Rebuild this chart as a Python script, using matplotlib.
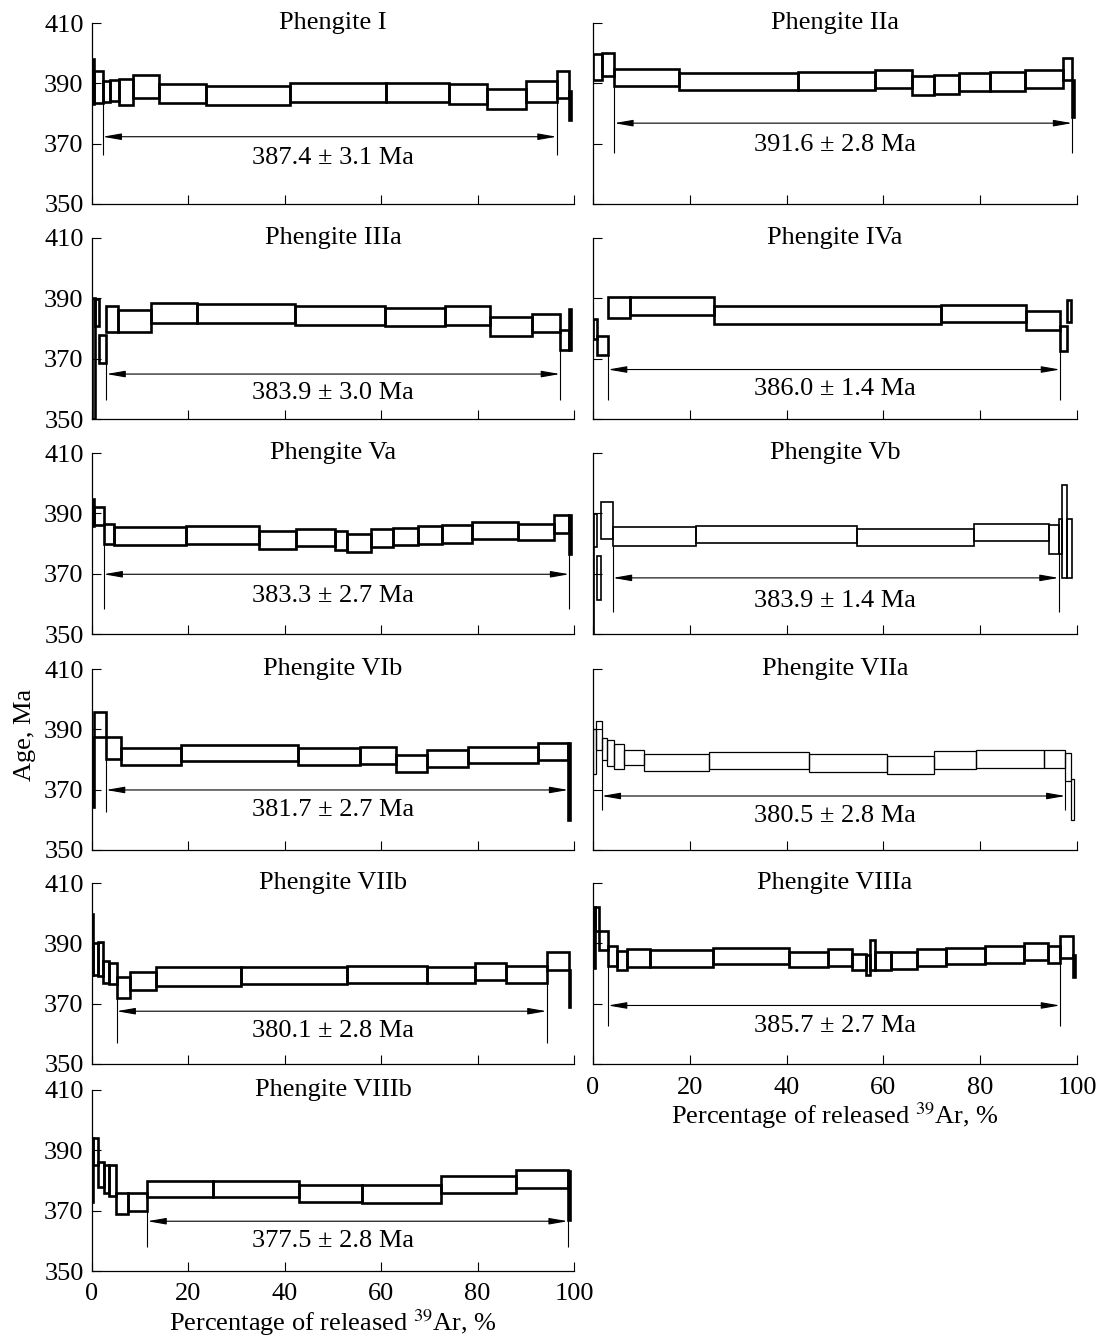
import numpy as np
import matplotlib.pyplot as plt

plt.rcParams["font.family"] = ["Liberation Serif", "DejaVu Serif"]
plt.rcParams["mathtext.fontset"] = "stix"

# --- step spectra: cumulative 39Ar release (%) edges, age low / high (Ma) ---
I_edges = [0, 0.5, 2.2, 3.7, 5.7, 8.5, 14.0, 23.6, 41.0, 60.9, 74.1, 81.9, 90.0, 96.4, 99.0, 99.4]
I_lo = [383.2, 383.4, 383.7, 384.2, 382.8, 385.0, 383.5, 382.8, 383.9, 383.9, 383.0, 381.5, 383.9, 385.0, 377.7]
I_hi = [398.0, 394.0, 390.8, 391.0, 391.6, 392.9, 389.9, 389.1, 390.2, 390.2, 389.9, 388.0, 390.8, 394.2, 387.5]

IIa_edges = [0, 1.8, 4.4, 17.8, 42.3, 58.3, 65.9, 70.5, 75.7, 82.1, 89.2, 97.2, 99.0, 99.3]
IIa_lo = [391.2, 392.5, 389.0, 387.7, 387.8, 388.5, 386.1, 386.4, 387.6, 387.6, 388.5, 391.2, 378.9]
IIa_hi = [399.6, 399.9, 394.9, 393.5, 393.8, 394.3, 392.5, 392.8, 393.5, 393.8, 394.5, 398.5, 391.2]

IIIa_edges = [0, 0.7, 1.5, 3.0, 5.35, 12.2, 21.8, 42.2, 60.8, 73.2, 82.5, 91.2, 97.1, 99.0, 99.4]
IIIa_lo = [350.0, 380.7, 368.5, 379.0, 379.0, 381.8, 381.8, 381.2, 380.7, 381.2, 377.6, 378.7, 373.0, 373.0]
IIIa_hi = [390.1, 389.7, 377.9, 387.5, 386.2, 388.4, 388.1, 387.5, 386.7, 387.5, 383.8, 384.9, 379.5, 386.5]

IVa_edges = [0, 0.9, 3.1, 7.7, 25.0, 72.0, 89.5, 96.5, 97.9, 98.7]
IVa_lo = [376.5, 371.3, 383.6, 384.4, 381.4, 382.0, 379.6, 372.6, 382.0]
IVa_hi = [383.1, 377.6, 390.5, 390.4, 387.5, 387.9, 385.8, 380.9, 389.5]

Va_edges = [0, 0.5, 2.4, 4.6, 19.5, 34.7, 42.3, 50.5, 52.9, 57.9, 62.4, 67.6, 72.7, 78.8, 88.3, 95.9, 99.0, 99.3]
Va_lo = [385.8, 386.0, 380.0, 379.6, 380.0, 378.3, 379.2, 377.8, 377.3, 378.8, 379.4, 379.7, 380.3, 381.4, 381.0, 383.6, 376.4]
Va_hi = [394.6, 392.2, 386.5, 385.4, 385.8, 384.1, 384.9, 384.1, 383.2, 384.9, 385.2, 385.8, 386.0, 387.1, 386.5, 389.6, 389.6]

Vb_edges = [0, 0.3, 0.8, 1.6, 4.1, 21.3, 54.5, 78.8, 94.2, 96.2, 96.8, 97.9, 99.0]
Vb_lo = [350.0, 378.7, 361.4, 381.5, 379.3, 380.1, 379.1, 380.7, 376.5, 376.5, 368.5, 368.5]
Vb_hi = [378.7, 389.8, 376.0, 393.6, 385.4, 385.9, 384.8, 386.5, 386.2, 388.1, 399.4, 388.1]

VIb_edges = [0, 0.4, 2.9, 6.1, 18.5, 42.7, 55.5, 63.1, 69.5, 78.0, 92.6, 98.8, 99.1]
VIb_lo = [364.4, 387.3, 380.1, 378.2, 379.6, 378.2, 378.4, 375.9, 377.4, 378.7, 379.8, 360.0]
VIb_hi = [387.3, 395.9, 387.3, 383.7, 384.8, 383.7, 384.0, 381.5, 383.1, 384.0, 385.6, 385.6]

VIIa_edges = [0, 0.7, 1.8, 2.8, 4.4, 6.4, 10.5, 23.9, 44.7, 60.8, 70.5, 79.2, 93.2, 97.6, 98.7, 99.3]
VIIa_lo = [375.3, 383.0, 379.7, 377.7, 376.7, 378.1, 376.2, 376.7, 375.9, 375.3, 377.0, 377.2, 377.2, 372.9, 359.9]
VIIa_hi = [390.0, 392.6, 387.2, 386.3, 385.2, 383.3, 381.9, 382.5, 381.7, 381.0, 382.8, 383.2, 383.3, 382.1, 373.7]

VIIb_edges = [0, 0.3, 1.2, 2.2, 3.6, 5.1, 7.8, 13.3, 31.0, 53.0, 69.5, 79.5, 85.8, 94.3, 98.9, 99.2]
VIIb_lo = [379.6, 379.6, 379.3, 377.0, 376.5, 372.0, 374.5, 376.0, 376.5, 377.0, 377.0, 378.0, 377.0, 381.0, 369.0]
VIIb_hi = [399.6, 390.0, 390.5, 384.0, 383.5, 379.0, 380.5, 382.0, 382.0, 382.5, 382.0, 383.5, 382.5, 387.0, 381.0]

VIIIa_edges = [0, 0.4, 1.2, 3.1, 4.9, 7.1, 11.7, 24.8, 40.5, 48.5, 53.5, 56.5, 57.3, 58.3, 61.5, 67.0,
               73.0, 81.0, 89.0, 94.0, 96.5, 99.2, 99.6]
VIIIa_lo = [381.8, 394.2, 387.9, 382.5, 381.0, 382.3, 382.1, 383.0, 382.0, 382.5, 381.0, 379.5, 381.0,
            381.0, 381.5, 382.5, 383.0, 383.5, 384.5, 383.5, 385.0, 379.0]
VIIIa_hi = [402.2, 402.2, 394.2, 389.2, 387.3, 388.1, 387.9, 388.3, 387.0, 388.0, 386.5, 386.0, 391.0,
            387.0, 387.0, 388.0, 388.5, 389.0, 390.0, 389.0, 392.5, 386.0]

VIIIb_edges = [0, 0.3, 1.3, 2.5, 3.5, 5.0, 7.5, 11.5, 25.0, 43.0, 56.0, 72.5, 88.0, 98.7, 99.2]
VIIIb_lo = [373, 385, 378, 376, 375, 369, 370, 374.5, 374.5, 373, 372.5, 376, 377.5, 367]
VIIIb_hi = [394, 394, 386, 385, 385, 376, 376, 380, 380, 378.5, 378.5, 381.5, 383.5, 383]

# plateau limits (%), plateau ages
plateau_from = [2.2, 4.4, 3.0, 3.1, 2.4, 4.1, 2.9, 1.8, 5.1, 3.1, 11.5]
plateau_to = [96.4, 99.0, 97.1, 96.5, 99.0, 96.2, 98.8, 97.6, 94.3, 96.5, 98.7]
plateau_text = ["387.4 ± 3.1 Ma", "391.6 ± 2.8 Ma", "383.9 ± 3.0 Ma", "386.0 ± 1.4 Ma",
                "383.3 ± 2.7 Ma", "383.9 ± 1.4 Ma", "381.7 ± 2.7 Ma", "380.5 ± 2.8 Ma",
                "380.1 ± 2.8 Ma", "385.7 ± 2.7 Ma", "377.5 ± 2.8 Ma"]
arrow_y = [372.3, 376.8, 364.9, 366.4, 369.8, 368.6, 369.9, 367.9, 367.5, 369.4, 366.5]
line_bottom = [366.3, 366.8, 356.3, 356.2, 358.2, 357.2, 362.7, 363.2, 357.0, 362.7, 358.0]
text_y = [365.4, 369.6, 358.7, 359.8, 362.6, 361.0, 363.3, 361.3, 361.0, 362.5, 360.0]

names = ["Phengite I", "Phengite IIa", "Phengite IIIa", "Phengite IVa", "Phengite Va",
         "Phengite Vb", "Phengite VIb", "Phengite VIIa", "Phengite VIIb", "Phengite VIIIa",
         "Phengite VIIIb"]
spectra = [(I_edges, I_lo, I_hi), (IIa_edges, IIa_lo, IIa_hi), (IIIa_edges, IIIa_lo, IIIa_hi),
           (IVa_edges, IVa_lo, IVa_hi), (Va_edges, Va_lo, Va_hi), (Vb_edges, Vb_lo, Vb_hi),
           (VIb_edges, VIb_lo, VIb_hi), (VIIa_edges, VIIa_lo, VIIa_hi),
           (VIIb_edges, VIIb_lo, VIIb_hi), (VIIIa_edges, VIIIa_lo, VIIIa_hi),
           (VIIIb_edges, VIIIb_lo, VIIIb_hi)]
box_lw = [1.9, 1.9, 1.9, 1.9, 1.9, 1.2, 1.9, 0.9, 1.9, 1.9, 1.9]

# --- layout in pixels ---
W, H = 1097, 1337
FS = 19
col_x = [(92, 574), (593, 1077)]
row_top = [23, 238, 453, 669, 883, 1090]
panel_h = 181

fig = plt.figure(figsize=(W / 100, H / 100), dpi=100)

for k, name in enumerate(names):
    row, col = divmod(k, 2)
    x0, x1 = col_x[col]
    top = row_top[row]
    ax = fig.add_axes([x0 / W, 1 - (top + panel_h) / H, (x1 - x0) / W, panel_h / H])

    edges, lo, hi = (np.array(a, dtype=float) for a in spectra[k])
    ax.bar(edges[:-1], hi - lo, width=np.diff(edges), bottom=lo, align="edge",
           fill=False, edgecolor="black", linewidth=box_lw[k])

    # plateau markers
    p0, p1 = plateau_from[k], plateau_to[k]
    tops = []
    for p in (p0, p1):
        i = int(np.argmin(np.abs(edges - p)))
        adj = [lo[j] for j in (i - 1, i) if 0 <= j < len(lo)]
        tops.append(min(adj))
    ax.vlines([p0, p1], line_bottom[k], tops, color="black", linewidth=0.8)
    ax.annotate("", xy=(p1, arrow_y[k]), xytext=(p0, arrow_y[k]),
                arrowprops=dict(arrowstyle="<|-|>,head_length=0.8,head_width=0.14",
                                color="black", lw=0.8, shrinkA=0, shrinkB=0,
                                mutation_scale=14))
    ax.text(50, text_y[k], plateau_text[k], ha="center", va="center", fontsize=FS)
    ax.text(50, 410, name, ha="center", va="center", fontsize=FS, clip_on=False)

    ax.set_xlim(0, 100)
    ax.set_ylim(350, 410)
    ax.set_xticks([0, 20, 40, 60, 80, 100])
    ax.set_yticks([350, 370, 390, 410])
    ax.tick_params(direction="in", length=6.5, width=0.8, labelsize=FS, pad=6)
    ax.tick_params(axis="x", pad=9)
    for s in ("top", "right"):
        ax.spines[s].set_visible(False)
    for s in ("left", "bottom"):
        ax.spines[s].set_linewidth(0.9)
    if col == 1:
        ax.set_yticklabels([])
    bottom_panel = (k == 10) or (k == 9)
    if bottom_panel:
        ax.set_xlabel("Percentage of released $^{39}$Ar, %", fontsize=FS, labelpad=1)
    else:
        ax.set_xticklabels([])

fig.text(25 / W, 1 - 735 / H, "Age, Ma", rotation=90, ha="center", va="center", fontsize=FS)

fig.savefig("out.png", dpi=100)
